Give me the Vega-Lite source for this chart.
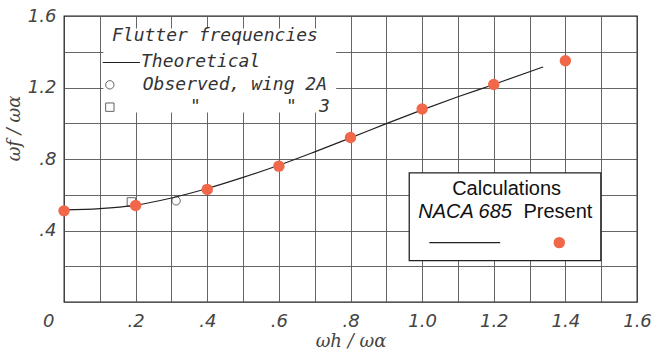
{
  "$schema": "https://vega.github.io/schema/vega-lite/v6.json",
  "width": 573,
  "height": 286,
  "autosize": "none",
  "padding": {"left": 64, "top": 16, "right": 16, "bottom": 52},
  "background": "white",
  "config": {
    "view": {"stroke": "#222", "strokeWidth": 1.3},
    "font": "DejaVu Sans",
    "axis": {
      "gridColor": "#555", "gridOpacity": 1, "gridWidth": 0.9,
      "domain": false, "ticks": false,
      "labelFont": "DejaVu Sans", "labelFontStyle": "italic", "labelFontSize": 18,
      "labelColor": "#444", "labelFontWeight": "normal",
      "titleFont": "DejaVu Serif", "titleFontStyle": "italic", "titleFontSize": 18,
      "titleFontWeight": "normal", "titleColor": "#444"
    }
  },
  "resolve": {"axis": {"x": "independent", "y": "independent"}},
  "datasets": {
    "theory": [
      {"x": 0.0, "y": 0.515}, {"x": 0.1, "y": 0.522}, {"x": 0.2, "y": 0.542},
      {"x": 0.3, "y": 0.582}, {"x": 0.4, "y": 0.635}, {"x": 0.5, "y": 0.697},
      {"x": 0.6, "y": 0.765}, {"x": 0.7, "y": 0.84}, {"x": 0.8, "y": 0.918},
      {"x": 0.9, "y": 0.998}, {"x": 1.0, "y": 1.075}, {"x": 1.1, "y": 1.148},
      {"x": 1.2, "y": 1.217}, {"x": 1.338, "y": 1.315}
    ],
    "observed": [
      {"x": 0.188, "y": 0.56, "wing": "3"},
      {"x": 0.313, "y": 0.566, "wing": "2A"}
    ],
    "present": [
      {"x": 0.0, "y": 0.51}, {"x": 0.2, "y": 0.54}, {"x": 0.4, "y": 0.63},
      {"x": 0.6, "y": 0.76}, {"x": 0.8, "y": 0.92}, {"x": 1.0, "y": 1.08},
      {"x": 1.2, "y": 1.217}, {"x": 1.4, "y": 1.35}
    ],
    "boxes": [
      {"name": "upper", "x": 0.11, "x2": 0.76, "y": 1.06, "y2": 1.53},
      {"name": "lower", "x": 0.964, "x2": 1.499, "y": 0.232, "y2": 0.722}
    ],
    "texts": [
      {"x": 0.134, "y": 1.49, "t": "Flutter frequencies", "g": "hand"},
      {"x": 0.215, "y": 1.345, "t": "Theoretical", "g": "hand"},
      {"x": 0.22, "y": 1.215, "t": "Observed, wing 2A", "g": "hand"},
      {"x": 0.352, "y": 1.09, "t": "\"", "g": "hand"},
      {"x": 0.62, "y": 1.09, "t": "\"", "g": "hand"},
      {"x": 0.712, "y": 1.09, "t": "3", "g": "hand"},
      {"x": 1.236, "y": 0.63, "t": "Calculations", "g": "plain"},
      {"x": 1.379, "y": 0.505, "t": "Present", "g": "plain"}
    ],
    "legline": [
      {"x": 0.108, "y": 1.34, "k": "a"}, {"x": 0.212, "y": 1.34, "k": "a"},
      {"x": 1.02, "y": 0.332, "k": "b"}, {"x": 1.218, "y": 0.332, "k": "b"}
    ],
    "legsym": [
      {"x": 0.128, "y": 1.215, "s": "circle"},
      {"x": 0.128, "y": 1.09, "s": "square"}
    ]
  },
  "layer": [
    {
      "data": {"name": "present"},
      "mark": {"type": "point", "opacity": 0},
      "encoding": {
        "x": {
          "field": "x", "type": "quantitative",
          "scale": {"domain": [0, 1.6], "nice": false, "zero": false},
          "axis": {
            "orient": "top", "labels": false, "title": null, "grid": true,
            "values": [0.1, 0.2, 0.3, 0.4, 0.5, 0.6, 0.7, 0.8, 0.9, 1.0, 1.1, 1.2, 1.3, 1.4, 1.5]
          }
        },
        "y": {
          "field": "y", "type": "quantitative",
          "scale": {"domain": [0, 1.6], "nice": false, "zero": false},
          "axis": {
            "orient": "right", "labels": false, "title": null, "grid": true,
            "values": [0.2, 0.4, 0.6, 0.8, 1.0, 1.2, 1.4]
          }
        }
      }
    },
    {
      "data": {"name": "boxes"},
      "transform": [{"filter": "datum.name == 'upper'"}],
      "mark": {"type": "rect", "fill": "white", "stroke": null},
      "encoding": {
        "x": {
          "field": "x", "type": "quantitative",
          "axis": {
            "orient": "bottom", "grid": false,
            "values": [0, 0.2, 0.4, 0.6, 0.8, 1.0, 1.2, 1.4, 1.6],
            "labelExpr": "datum.value==0 ? '0' : (datum.value<1 ? replace(format(datum.value,'.1f'),'0.','.') : format(datum.value,'.1f'))",
            "labelAlign": {"condition": {"test": "datum.value == 0", "value": "right"}, "value": "center"},
            "labelOffset": {"condition": {"test": "datum.value == 0", "value": -10}, "value": 0},
            "labelPadding": 10,
            "title": "ωh / ωα", "titlePadding": 2
          }
        },
        "x2": {"field": "x2"},
        "y": {
          "field": "y", "type": "quantitative",
          "axis": {
            "orient": "left", "grid": false,
            "values": [0.4, 0.8, 1.2, 1.6],
            "labelExpr": "datum.value<1 ? replace(format(datum.value,'.1f'),'0.','.') : format(datum.value,'.1f')",
            "labelPadding": 8,
            "title": "ωf / ωα", "titlePadding": 4, "titleY": 112
          }
        },
        "y2": {"field": "y2"}
      }
    },
    {
      "data": {"name": "theory"},
      "mark": {"type": "line", "color": "#222", "strokeWidth": 1.2, "interpolate": "monotone"},
      "encoding": {
        "x": {"field": "x", "type": "quantitative", "axis": null},
        "y": {"field": "y", "type": "quantitative", "axis": null}
      }
    },
    {
      "data": {"name": "observed"},
      "mark": {"type": "point", "filled": false, "color": "#222", "size": 70, "strokeWidth": 1},
      "encoding": {
        "x": {"field": "x", "type": "quantitative", "axis": null},
        "y": {"field": "y", "type": "quantitative", "axis": null},
        "shape": {"field": "wing", "type": "nominal", "scale": {"domain": ["2A", "3"], "range": ["circle", "square"]}, "legend": null}
      }
    },
    {
      "data": {"name": "present"},
      "mark": {"type": "circle", "color": "#F0674A", "size": 130, "opacity": 1},
      "encoding": {
        "x": {"field": "x", "type": "quantitative", "axis": null},
        "y": {"field": "y", "type": "quantitative", "axis": null}
      }
    },
    {
      "data": {"name": "boxes"},
      "transform": [{"filter": "datum.name == 'lower'"}],
      "mark": {"type": "rect", "fill": "white", "stroke": "#222", "strokeWidth": 1.3},
      "encoding": {
        "x": {"field": "x", "type": "quantitative", "axis": null},
        "x2": {"field": "x2"},
        "y": {"field": "y", "type": "quantitative", "axis": null},
        "y2": {"field": "y2"}
      }
    },
    {
      "data": {"name": "legline"},
      "mark": {"type": "line", "color": "#222", "strokeWidth": 1.2},
      "encoding": {
        "x": {"field": "x", "type": "quantitative", "axis": null},
        "y": {"field": "y", "type": "quantitative", "axis": null},
        "detail": {"field": "k"}
      }
    },
    {
      "data": {"name": "legsym"},
      "mark": {"type": "point", "filled": false, "color": "#222", "size": 70, "strokeWidth": 1},
      "encoding": {
        "x": {"field": "x", "type": "quantitative", "axis": null},
        "y": {"field": "y", "type": "quantitative", "axis": null},
        "shape": {"field": "s", "type": "nominal", "scale": null}
      }
    },
    {
      "data": {"values": [{"x": 1.383, "y": 0.332}]},
      "mark": {"type": "circle", "color": "#F0674A", "size": 130, "opacity": 1},
      "encoding": {
        "x": {"field": "x", "type": "quantitative", "axis": null},
        "y": {"field": "y", "type": "quantitative", "axis": null}
      }
    },
    {
      "data": {"name": "texts"},
      "transform": [{"filter": "datum.g == 'hand'"}],
      "mark": {"type": "text", "align": "left", "baseline": "middle", "font": "DejaVu Sans Mono", "fontStyle": "italic", "fontSize": 18, "color": "#333"},
      "encoding": {
        "x": {"field": "x", "type": "quantitative", "axis": null},
        "y": {"field": "y", "type": "quantitative", "axis": null},
        "text": {"field": "t"}
      }
    },
    {
      "data": {"name": "texts"},
      "transform": [{"filter": "datum.g == 'plain'"}],
      "mark": {"type": "text", "align": "center", "baseline": "middle", "font": "Liberation Sans", "fontSize": 20, "color": "#111"},
      "encoding": {
        "x": {"field": "x", "type": "quantitative", "axis": null},
        "y": {"field": "y", "type": "quantitative", "axis": null},
        "text": {"field": "t"}
      }
    },
    {
      "data": {"values": [{"x": 1.12, "y": 0.505, "t": "NACA 685"}]},
      "mark": {"type": "text", "align": "center", "baseline": "middle", "font": "Liberation Sans", "fontStyle": "italic", "fontSize": 20, "color": "#111"},
      "encoding": {
        "x": {"field": "x", "type": "quantitative", "axis": null},
        "y": {"field": "y", "type": "quantitative", "axis": null},
        "text": {"field": "t"}
      }
    }
  ]
}
